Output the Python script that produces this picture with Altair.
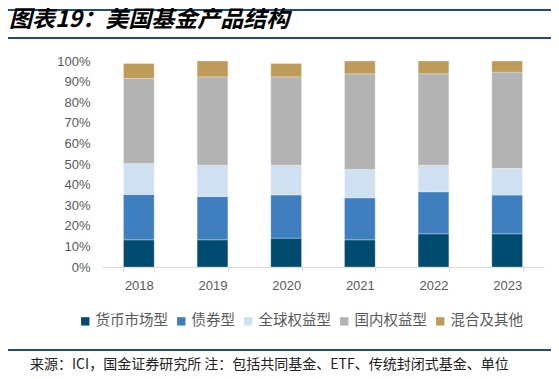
import altair as alt
import pandas as pd

years = ["2018", "2019", "2020", "2021", "2022", "2023"]
categories = ["货币市场型", "债券型", "全球权益型", "国内权益型", "混合及其他"]
money_market = [13.2, 13.2, 14.0, 13.2, 16.1, 16.1]
bond = [22.0, 21.0, 21.0, 20.4, 20.4, 18.8]
global_equity = [15.0, 15.2, 14.4, 13.7, 12.9, 13.0]
domestic_equity = [41.3, 42.9, 42.9, 46.5, 44.4, 46.7]
mixed_other = [7.3, 7.7, 6.5, 6.2, 6.2, 5.4]
colors = ["#004B70", "#407FBF", "#CFE0F1", "#B3B3B3", "#BF9B5A"]

title_text = "图表19：美国基金产品结构"
source_text = "来源：ICI，国金证券研究所 注：包括共同基金、ETF、传统封闭式基金、单位"

series = [money_market, bond, global_equity, domestic_equity, mixed_other]
rows = []
for i, (cat, vals) in enumerate(zip(categories, series)):
    for yr, v in zip(years, vals):
        rows.append({"year": yr, "type": cat, "value": v, "order": i})
df = pd.DataFrame(rows)

W, H = 543, 363
PLOT_L, PLOT_R, PLOT_T, PLOT_B = 94, 536, 53, 259

line_color = "#1F4E79"
line_top = alt.Chart(pd.DataFrame({"a": [0]})).mark_rule(color=line_color, strokeWidth=2).encode(
    x=alt.value(0), x2=alt.value(W), y=alt.value(2))
line_title = alt.Chart(pd.DataFrame({"a": [0]})).mark_rule(color=line_color, strokeWidth=2).encode(
    x=alt.value(0), x2=alt.value(W), y=alt.value(30))
line_foot = alt.Chart(pd.DataFrame({"a": [0]})).mark_rule(color=line_color, strokeWidth=2).encode(
    x=alt.value(0), x2=alt.value(W), y=alt.value(342))

bars = alt.Chart(df).mark_bar(stroke="white", strokeWidth=0.4, strokeOpacity=0.7).encode(
    x=alt.X(
        "year:N", sort=years, title=None,
        scale=alt.Scale(paddingInner=0.583, paddingOuter=0.2915, range=[PLOT_L, PLOT_R]),
        axis=alt.Axis(labelAngle=0, labelFont="Liberation Sans", labelFontSize=13,
                      labelColor="#595959", labelPadding=8, domainColor="#D9D9D9",
                      tickColor="#D9D9D9", tickBand="extent", tickSize=4,
                      offset=PLOT_B - H),
    ),
    y=alt.Y(
        "value:Q", stack="zero", title=None,
        scale=alt.Scale(domain=[0, 100], nice=False, range=[PLOT_B, PLOT_T]),
        axis=alt.Axis(values=list(range(0, 101, 10)), labelExpr="datum.value + '%'",
                      grid=False, domain=False, ticks=False, labelFont="Liberation Sans",
                      labelFontSize=13, labelColor="#595959", labelPadding=12,
                      offset=-PLOT_L),
    ),
    color=alt.Color(
        "type:N", sort=categories,
        scale=alt.Scale(domain=categories, range=colors),
        legend=alt.Legend(orient="none", direction="horizontal", legendX=70, legendY=306,
                          title=None, symbolType="square", symbolSize=70, symbolStrokeWidth=0,
                          labelFont="Noto Sans CJK SC", labelFontSize=14.5, labelColor="#595959",
                          columnPadding=6, labelOffset=3),
    ),
    order=alt.Order("order:Q", sort="ascending"),
)

title = alt.Chart(pd.DataFrame({"t": [title_text]})).mark_text(
    align="left", baseline="middle", font="Noto Sans CJK SC", fontSize=23,
    fontWeight="bold", fontStyle="italic", color="#000000",
).encode(text="t:N", x=alt.value(1), y=alt.value(12))

source = alt.Chart(pd.DataFrame({"t": [source_text]})).mark_text(
    align="left", baseline="middle", font="Noto Sans CJK SC", fontSize=14,
    color="#222222",
).encode(text="t:N", x=alt.value(22), y=alt.value(357))

chart = alt.layer(line_top, line_title, line_foot, bars, title, source).properties(
    width=W, height=H,
    autosize=alt.AutoSizeParams(type="none"),
    padding=0,
).configure_view(stroke=None)

chart.save("out.html", embed_options={"renderer": "svg", "actions": False})
